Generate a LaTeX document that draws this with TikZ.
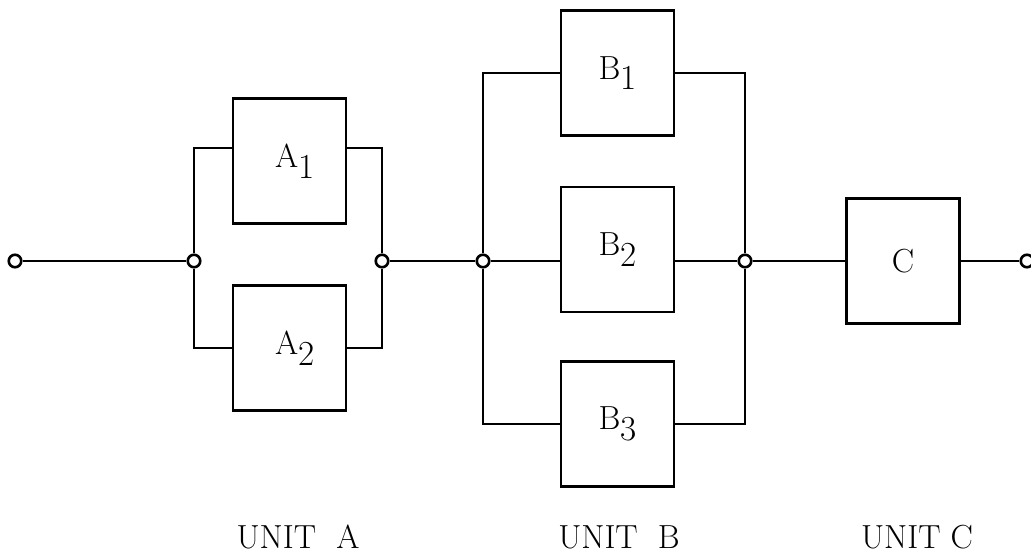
\documentclass[tikz,border=0pt]{standalone}
\usepackage{tikz}
\usetikzlibrary{positioning}
\newcommand{\blocksub}[1]{\raisebox{-6pt}{\fontsize{20}{20}\selectfont #1}}
\tikzset{
  unit/.style={draw, line width=1.5pt, minimum width=2.26cm, minimum height=2.5cm, inner sep=0pt, align=center},
  joint/.style={circle, draw, fill=white, line width=1.5pt, minimum size=0.25cm, inner sep=0pt},
  wire/.style={line width=1.5pt},
  unitname/.style={anchor=base, inner sep=0pt}
}

\begin{document}
\begin{tikzpicture}[x=0.02cm, y=-0.02cm, font=\fontsize{19}{20}\selectfont]
  \useasboundingbox (0,0) rectangle (1031,554);

  % blocks
  \node[unit] (A1) at (289.5,161) {\hspace{6pt}A\blocksub{1}};
  \node[unit] (A2) at (289.5,348) {\hspace{6pt}A\blocksub{2}};
  \node[unit] (B1) at (617.5,73) {B\blocksub{1}};
  \node[unit] (B2) at (617.5,249.5) {B\blocksub{2}};
  \node[unit] (B3) at (617.5,424) {B\blocksub{3}};
  \node[unit] (C)  at (903,261) {C};

  % terminals and junctions
  \node[joint] (in)  at (15,261) {};
  \node[joint] (jA1) at (194,261) {};
  \node[joint] (jA2) at (382,261) {};
  \node[joint] (jB1) at (483,261) {};
  \node[joint] (jB2) at (745,261) {};
  \node[joint] (out) at (1027,261) {};
  \coordinate (tA) at ([yshift=0.26cm]A1.west);

  % unit A
  \draw[wire] (in) -- (jA1);
  \draw[wire] (jA1) -- (jA1 |- tA) -- (tA);
  \draw[wire] (jA1) -- (jA1 |- A2.west) -- (A2.west);
  \draw[wire] (A1.east |- tA) -- (jA2 |- tA) -- (jA2);
  \draw[wire] (A2.east) -- (jA2 |- A2.east) -- (jA2);

  % unit B
  \draw[wire] (jA2) -- (jB1);
  \draw[wire] (jB1) -- (jB1 |- B1.west) -- (B1.west);
  \draw[wire] (jB1) -- (B2.west |- jB1);
  \draw[wire] (jB1) -- (jB1 |- B3.west) -- (B3.west);
  \draw[wire] (B1.east) -- (jB2 |- B1.east) -- (jB2);
  \draw[wire] (B2.east |- jB2) -- (jB2);
  \draw[wire] (B3.east) -- (jB2 |- B3.east) -- (jB2);

  % unit C
  \draw[wire] (jB2) -- (C);
  \draw[wire] (C) -- (out);

  \node[unitname] (nameA) at (298,548) {UNIT\ \ A};
  \node[unitname] (nameB) at (619,548) {UNIT\ \ B};
  \node[unitname] (nameC) at (917,548) {UNIT C};
\end{tikzpicture}
\end{document}
